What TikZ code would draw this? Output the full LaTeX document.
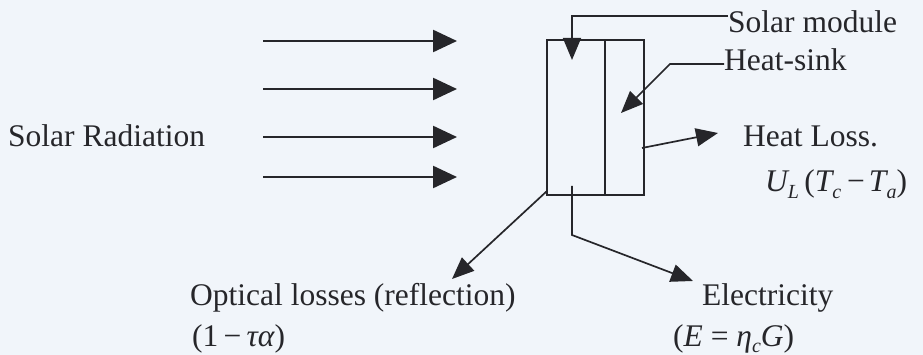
\documentclass[tikz,border=0pt]{standalone}
\usepackage{fontspec}
\setmainfont{Liberation Serif}
\usetikzlibrary{arrows.meta}
\definecolor{paper}{RGB}{241,245,250}
\definecolor{ink}{RGB}{38,38,42}
\newcommand{\lowsub}[1]{\raisebox{-0.45ex}{\fontsize{20}{22}\selectfont\itshape #1}}
\begin{document}
\begin{tikzpicture}[x=1pt,y=-1pt,
  lbl/.style={anchor=base west,inner sep=0pt,text=ink,font=\fontsize{31.5}{36}\selectfont},
  ray/.style={draw=ink,line width=2.4pt,-{Triangle[length=24pt,width=22pt]}},
  lead/.style={draw=ink,line width=1.7pt,-{Triangle[length=22pt,width=18pt]}},
  boxline/.style={draw=ink,line width=1.7pt}]
\fill[paper] (0,0) rectangle (923,355);
\useasboundingbox (0,0) rectangle (923,355);

% incoming radiation
\foreach \i/\y in {1/41,2/89,3/137,4/177}{
  \coordinate (rs\i) at (263,\y);
  \coordinate (re\i) at (457,\y);
  \draw[ray] (rs\i) -- (re\i);
}
\node[lbl] (rad) at (8,147) {Solar Radiation};

% module with heat-sink
\coordinate (bnw) at (547,40);
\coordinate (bse) at (644,195);
\draw[boxline] (bnw) rectangle (bse);
\coordinate (dtop) at (605,40);
\coordinate (dbot) at (605,195);
\draw[boxline] (dtop) -- (dbot);

% labels on the right
\node[lbl] (mod) at (728,33) {Solar module};
\node[lbl] (sink) at (724,71) {Heat-sink};
\node[lbl] (loss) at (743,147) {Heat Loss.};
\node[lbl] (ul) at (765,192) {\itshape U\lowsub{L}\,\upshape(\itshape T\lowsub{c}\hspace{6pt}\upshape−\hspace{4pt}\itshape T\lowsub{a}\upshape)};

\coordinate (modtip) at (572,60);
\draw[lead] (mod.west |- 0,16) -- (572,16) -- (modtip);
\coordinate (sinktip) at (621,113);
\draw[lead] (sink.west |- 0,64) -- (670,64) -- (sinktip);
\coordinate (lossfrom) at (642,148);
\coordinate (losstip) at (718,133);
\draw[lead] (lossfrom) -- (losstip);

% outputs below
\node[lbl] (opt) at (190,305) {Optical losses (reflection)};
\node[lbl] (optf) at (192,346) {(1\,−\,\itshape τα\upshape)};
\node[lbl] (elec) at (702,305) {Electricity};
\node[lbl] (elecf) at (673,346) {(\itshape E\upshape\ =\ \itshape η\lowsub{c}G\upshape)};

\coordinate (optfrom) at (547,191);
\coordinate (opttip) at (452,279);
\draw[lead] (optfrom) -- (opttip);
\coordinate (elecfrom) at (572,186);
\coordinate (electip) at (693,281);
\draw[lead] (elecfrom) -- (572,235) -- (electip);
\end{tikzpicture}
\end{document}
